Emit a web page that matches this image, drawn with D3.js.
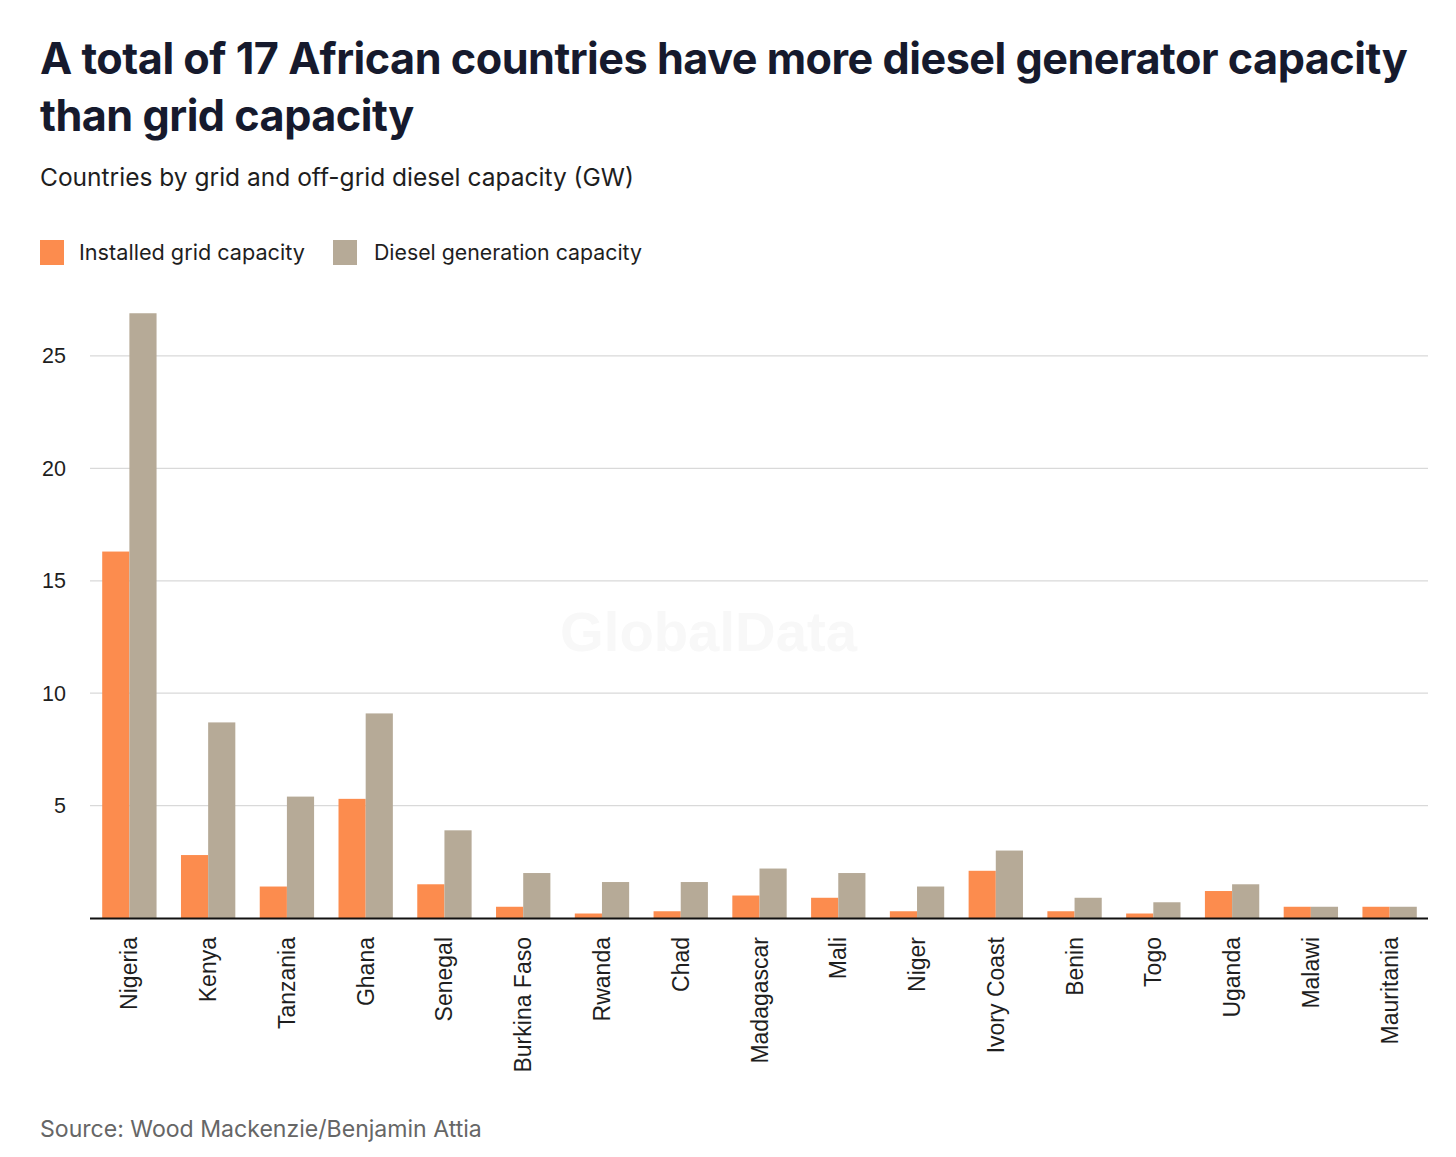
<!DOCTYPE html>
<html><head><meta charset="utf-8">
<script src="https://cdn.jsdelivr.net/npm/d3@7"></script>
<style>body{margin:0;background:#fff}</style>
</head><body>
<svg id="c" width="1456" height="1157"></svg>
<script>
const countries = ["Nigeria","Kenya","Tanzania","Ghana","Senegal","Burkina Faso","Rwanda","Chad","Madagascar","Mali","Niger","Ivory Coast","Benin","Togo","Uganda","Malawi","Mauritania"];
const gridCapacity = [16.3,2.8,1.4,5.3,1.5,0.5,0.2,0.3,1.0,0.9,0.3,2.1,0.3,0.2,1.2,0.5,0.5];
const dieselCapacity = [26.9,8.7,5.4,9.1,3.9,2.0,1.6,1.6,2.2,2.0,1.4,3.0,0.9,0.7,1.5,0.5,0.5];
const yTicks = [5,10,15,20,25];
const seriesNames = ["Installed grid capacity","Diesel generation capacity"];
const seriesColors = ["#FC8C4E","#B6AA97"];

const svg = d3.select("#c");
function fit(sel, target){
  const w = sel.node().getComputedTextLength();
  const fs = parseFloat(sel.attr("font-size"));
  sel.attr("font-size", fs*target/w);
}
const titleFont = "Inter, 'Open Sans', sans-serif";
const bodyFont = "Inter, 'Open Sans', sans-serif";
const axisFont = "'Liberation Sans', Arial, sans-serif";
const t1 = svg.append("text").attr("x",40).attr("y",74).attr("font-family",titleFont).attr("font-weight",700)
  .attr("font-size",40).attr("fill","#161a2d").attr("letter-spacing","-0.5").text("A total of 17 African countries have more diesel generator capacity");
fit(t1,1365);
svg.append("text").attr("x",40).attr("y",131).attr("font-family",titleFont).attr("font-weight",700)
  .attr("font-size",t1.attr("font-size")).attr("fill","#161a2d").attr("letter-spacing","-0.5").text("than grid capacity");
const st = svg.append("text").attr("x",40).attr("y",186).attr("font-family",bodyFont).attr("font-size",23)
  .attr("fill","#1e1e1e").text("Countries by grid and off-grid diesel capacity (GW)");
fit(st,594);

// legend
const legX = [40,333];
const leg = svg.selectAll("g.leg").data(seriesNames).enter().append("g").attr("class","leg")
  .attr("transform",(d,i)=>`translate(${legX[i]},240)`);
leg.append("rect").attr("width",24).attr("height",25).attr("fill",(d,i)=>seriesColors[i]);
leg.append("text").attr("x",(d,i)=>i===0?39:41).attr("y",20).attr("font-family",bodyFont).attr("font-size",20)
  .attr("fill","#1e1e1e").text(d=>d).each(function(d,i){fit(d3.select(this), i===0?226:268);});

// watermark
const wm = svg.append("text").attr("x",560).attr("y",651).attr("font-family",axisFont)
  .attr("font-weight",700).attr("font-size",51).attr("fill","#f8f8f8").text("GlobalData");
fit(wm,297);

const x0 = d3.scaleBand().domain(countries).range([90,1429]).paddingInner(0.31).paddingOuter(0.155);
const x1 = d3.scaleBand().domain([0,1]).range([0,x0.bandwidth()]);
const y = d3.scaleLinear().domain([0,27]).range([918,311]);

// gridlines
svg.append("g").selectAll("line").data(yTicks).enter().append("line")
  .attr("x1",90).attr("x2",1428).attr("y1",d=>y(d)).attr("y2",d=>y(d)).attr("stroke","#d9d9d9").attr("stroke-width",1.3);
// y labels
svg.append("g").selectAll("text").data(yTicks).enter().append("text")
  .attr("x",66).attr("y",d=>y(d)+7.5).attr("text-anchor","end").attr("font-family",axisFont)
  .attr("font-size",21.5).attr("fill","#1e1e1e").text(d=>d);

// bars
const g = svg.append("g");
countries.forEach((c,i)=>{
  const vals=[gridCapacity[i],dieselCapacity[i]];
  g.selectAll(null).data(vals).enter().append("rect")
    .attr("x",(d,j)=>x0(c)+x1(j)).attr("width",x1.bandwidth())
    .attr("y",d=>y(d)).attr("height",d=>y(0)-y(d)).attr("fill",(d,j)=>seriesColors[j]);
});

// x axis
svg.append("line").attr("x1",90).attr("x2",1428).attr("y1",918.5).attr("y2",918.5).attr("stroke","#111").attr("stroke-width",2);
svg.append("g").selectAll("text").data(countries).enter().append("text")
  .attr("transform",d=>`translate(${x0(d)+x0.bandwidth()/2+8},937) rotate(-90)`)
  .attr("text-anchor","end").attr("font-family",axisFont).attr("font-size",23)
  .attr("fill","#1e1e1e").text(d=>d);

const src = svg.append("text").attr("x",40).attr("y",1137).attr("font-family",bodyFont).attr("font-size",21)
  .attr("fill","#666").text("Source: Wood Mackenzie/Benjamin Attia");
fit(src,442);
</script>
</body></html>
